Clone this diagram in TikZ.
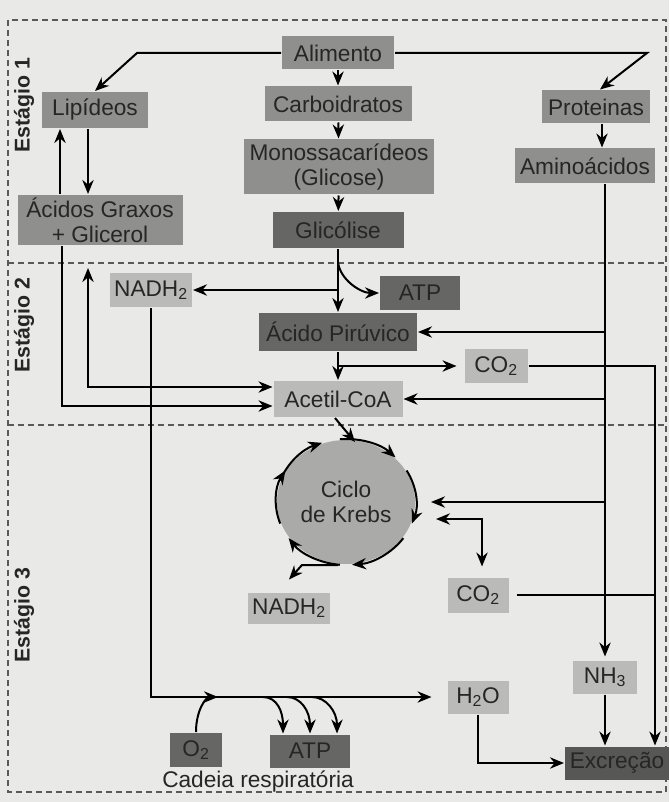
\documentclass[tikz,border=0pt]{standalone}
\usepackage{fontspec}
\setmainfont{Liberation Sans}
\usetikzlibrary{shapes.geometric}
\usetikzlibrary{arrows.meta}
\newlength{\pix}
\setlength{\pix}{0.75pt}

\begin{document}
\begin{tikzpicture}[->,>={Stealth[length=10.5pt,width=8.5pt]},line width=1.5pt,x=0.75pt,y=-0.75pt,
	box/.style={rectangle,inner sep=0pt,text=black!85,align=center,
		font=\fontsize{17}{18.5}\selectfont},
	mid node/.style={box,fill=boxmid},
	dark node/.style={box,fill=boxdark},
	light node/.style={box,fill=boxlight},
	stage/.style={rotate=90,text=black!85,font=\bfseries\fontsize{16}{18}\selectfont},
	frame/.style={-,line width=0.9pt,dash pattern=on 4.5pt off 3pt,draw=black!65}]
	
	\definecolor{paper}{RGB}{233,233,231}
	\definecolor{boxmid}{RGB}{143,143,141}
	\definecolor{boxdark}{RGB}{102,102,100}
	\definecolor{boxlight}{RGB}{186,186,184}
	\definecolor{krebsfill}{RGB}{170,170,168}
	
	\fill[-,paper] (0,0) rectangle (669,802);
	\draw[frame] (8,20) rectangle (666,792);
	\draw[frame] (8,263) -- (666,263);
	\draw[frame] (8,425) -- (666,425);
	
	\node[stage] (st1) at (24,105) {Estágio 1};
	\node[stage] (st2) at (24,325) {Estágio 2};
	\node[stage] (st3) at (24,615) {Estágio 3};
	
	% estagio 1
	\node[mid node,minimum width=112\pix,minimum height=33\pix] (alim) at (338,53) {Alimento};
	\node[mid node,minimum width=106\pix,minimum height=36\pix] (lip) at (95,110) {Lipídeos};
	\node[mid node,minimum width=147\pix,minimum height=35\pix] (carb) at (338,104) {Carboidratos};
	\node[mid node,minimum width=190\pix,minimum height=55\pix] (mono) at (339,167) {Monossacarídeos\\(Glicose)};
	\node[dark node,minimum width=131\pix,minimum height=36\pix] (glic) at (338,230) {Glicólise};
	\node[mid node,minimum width=165\pix,minimum height=50\pix] (acg) at (100,220) {Ácidos Graxos\\+ Glicerol};
	\node[mid node,minimum width=108\pix,minimum height=33\pix] (prot) at (596,107) {Proteinas};
	\node[mid node,minimum width=140\pix,minimum height=35\pix] (amino) at (585,166) {Aminoácidos};
	
	% estagio 2
	\node[light node,minimum width=82\pix,minimum height=34\pix] (nadh1) at (151,290) {NADH\textsubscript{2}};
	\node[dark node,minimum width=80\pix,minimum height=34\pix] (atp1) at (420,293) {ATP};
	\node[dark node,minimum width=158\pix,minimum height=38\pix] (piru) at (338,332) {Ácido Pirúvico};
	\node[light node,minimum width=63\pix,minimum height=34\pix] (co2a) at (496,366) {CO\textsubscript{2}};
	\node[light node,minimum width=129\pix,minimum height=36\pix] (acetil) at (338,399) {Acetil-CoA};
	
	% estagio 3
	\node[ellipse,fill=krebsfill,inner sep=0pt,minimum width=138\pix,minimum height=124\pix,
		text=black!85,align=center,font=\fontsize{17}{18.5}\selectfont] (krebs) at (346,502) {Ciclo\\de Krebs};
	\node[light node,minimum width=82\pix,minimum height=31\pix] (nadh2) at (289,608) {NADH\textsubscript{2}};
	\node[light node,minimum width=61\pix,minimum height=35\pix] (co2b) at (478,595) {CO\textsubscript{2}};
	\node[light node,minimum width=64\pix,minimum height=33\pix] (nh3) at (605,677) {NH\textsubscript{3}};
	\node[light node,minimum width=61\pix,minimum height=33\pix] (h2o) at (478,697) {H\textsubscript{2}O};
	\node[dark node,fill=boxdark!85!black,minimum width=104\pix,minimum height=33\pix] (excr) at (617,763) {Excreção};
	\node[dark node,minimum width=52\pix,minimum height=34\pix] (o2) at (196,750) {O\textsubscript{2}};
	\node[dark node,minimum width=80\pix,minimum height=33\pix] (atp2) at (310,751) {ATP};
	\node[text=black!85,font=\fontsize{17}{18.5}\selectfont] (cadlabel) at (258,781) {Cadeia respiratória};
	
	\coordinate (bendL) at (137,53);
	\coordinate (bendR) at (647,53);
	\coordinate (fatup) at (88,268);
	\coordinate (chain) at (nadh1.south |- h2o.west);
	\coordinate (exline) at ([xshift=38\pix]excr.north);
	
	\draw (alim.west) -- (bendL) -- (lip.north);
	\draw (alim.east) -- (bendR) -- ([xshift=4\pix]prot.north);
	\path (alim) edge (carb)
	(carb) edge (mono)
	(mono) edge (glic);
	\draw ([xshift=6\pix]prot.south) -- ([xshift=6\pix]prot.south |- amino.north);
	\draw ([xshift=-7\pix]lip.south) -- ([xshift=-7\pix]lip.south |- acg.north);
	\draw ([xshift=-40\pix]acg.north) -- ([xshift=-40\pix]acg.north |- lip.south);
	\draw ([xshift=-38\pix]acg.south) |- ([yshift=-7\pix]acetil.west);
	\draw[<->] (fatup) |- ([yshift=12\pix]acetil.west);
	
	\draw (glic) -- (piru);
	\draw ([yshift=-13\pix]glic.south) .. controls +(2,18) and +(-18,0) .. (atp1.west);
	\draw (glic.south |- nadh1.east) -- (nadh1.east);
	\draw (piru) -- (acetil);
	\draw (piru.south |- co2a.west) -- ([xshift=-7\pix]co2a.west);
	
	\draw (nh3.north |- amino.south) -- ([yshift=3\pix]nh3.north);
	\draw (nh3.north |- piru.east) -- (piru.east);
	\draw (nh3.north |- acetil.east) -- (acetil.east);
	\draw (nh3.north |- krebs.east) -- ([xshift=15\pix]krebs.east);
	
	\draw (co2a.east) -| (exline);
	\draw[-] ([xshift=7\pix]co2b.east) -- (co2b.east -| exline);
	\draw[<->] ([xshift=20\pix,yshift=-17\pix]krebs.east) -| ([xshift=4\pix,yshift=10\pix]co2b.north);
	\draw (nh3.south) -- (nh3.south |- excr.north);
	\draw (h2o.south) |- (excr.west);
	
	% ciclo
	\draw ([xshift=-3\pix]acetil.south) -- ([xshift=9\pix,yshift=-3\pix]krebs.north);
	\foreach \a in {160,95,30,-35,-95,-160}
	\draw ([shift={(\a:52.5pt and 47.25pt)}]krebs.center) arc[start angle=\a,end angle=\a-50,x radius=52.5pt,y radius=47.25pt];
	\draw ([xshift=-8\pix]krebs.south) -- ([xshift=-44\pix]krebs.south) -- ([yshift=12\pix]nadh2.north);
	
	% cadeia respiratoria
	\draw (nadh1.south) |- ([xshift=-15\pix]h2o.west);
	\draw (o2.north) .. controls +(0,-22) and +(-12,0) .. ([xshift=67\pix]chain);
	\foreach \dx/\ex in {112/-27,136/0,161/27}
	\draw ([xshift=\dx\pix]chain) .. controls +(14,0) and +(0,-22) .. ([xshift=\ex\pix]atp2.north);
\end{tikzpicture}
\end{document}
